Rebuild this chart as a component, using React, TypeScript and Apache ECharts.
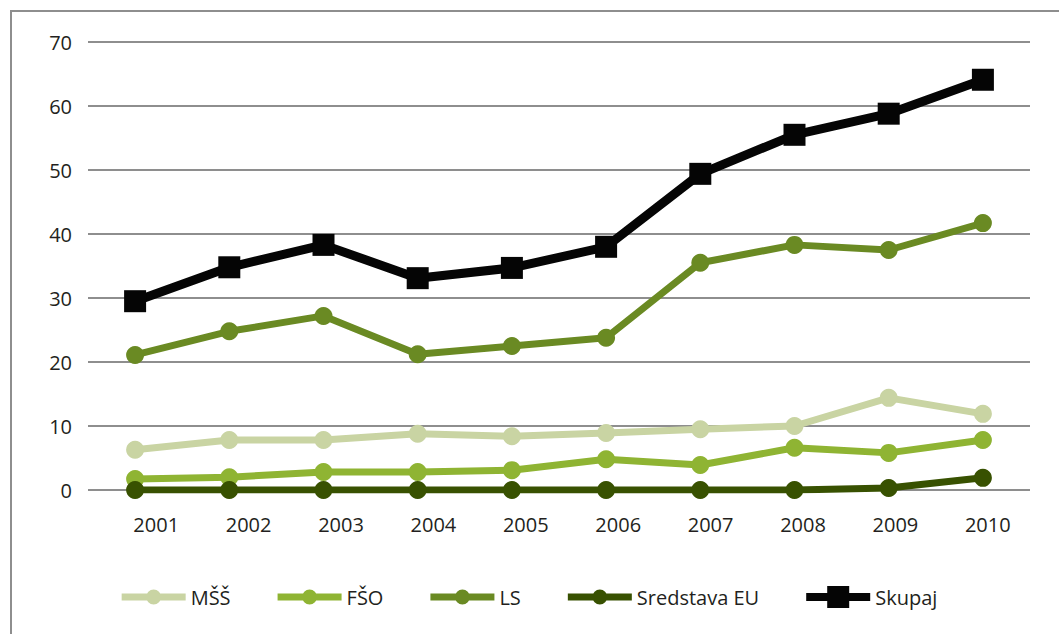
import React, { useEffect, useRef } from "react";
import * as echarts from "echarts";

const years = ["2001", "2002", "2003", "2004", "2005", "2006", "2007", "2008", "2009", "2010"];
const yTicks = { min: 0, max: 70, interval: 10 };

const mss = [6.3, 7.8, 7.8, 8.8, 8.4, 8.9, 9.5, 10.0, 14.4, 11.9];
const fso = [1.7, 2.0, 2.8, 2.8, 3.1, 4.8, 3.9, 6.6, 5.8, 7.8];
const ls = [21.1, 24.8, 27.2, 21.2, 22.5, 23.8, 35.5, 38.3, 37.5, 41.7];
const eu = [0, 0, 0, 0, 0, 0, 0, 0, 0.3, 1.9];
const skupaj = [29.5, 34.8, 38.3, 33.1, 34.7, 38.0, 49.4, 55.5, 58.8, 64.1];

const seriesNames = ["MŠŠ", "FŠO", "LS", "Sredstava EU", "Skupaj"];
const seriesColors = ["#c9d4a3", "#8fb433", "#6a8a23", "#385101", "#050505"];

const FONT = "'Open Sans', 'Noto Sans', sans-serif";
const TEXT_COLOR = "#231f20";
const GRID_COLOR = "#8e8e8e";

// legend icons: bar with marker in the middle (64 x 22 box, corner dots keep the box size)
const corners = "M0 0 L0.01 0 L0.01 0.01 Z M63.99 21.99 L64 21.99 L64 22 Z ";
const circleIcon =
  "path://" + corners +
  "M0 7.5 L64 7.5 L64 14.5 L0 14.5 Z M24.5 11 A7.5 7.5 0 1 1 39.5 11 A7.5 7.5 0 1 1 24.5 11 Z";
const squareIcon =
  "path://" + corners +
  "M0 7 L21 7 L21 0 L43 0 L43 7 L64 7 L64 15 L43 15 L43 22 L21 22 L21 15 L0 15 Z";

export default function App() {
  const ref = useRef<HTMLDivElement>(null);

  useEffect(() => {
    if (!ref.current) return;
    const chart = echarts.init(ref.current, null, { renderer: "svg" });
    const values = [mss, fso, ls, eu, skupaj];

    const series: any[] = values.map((d, i) => {
      const isTotal = i === 4;
      return {
        name: seriesNames[i],
        type: "line",
        xAxisIndex: 0,
        yAxisIndex: 0,
        data: d,
        symbol: isTotal ? "rect" : "circle",
        symbolSize: isTotal ? 22 : 18,
        showSymbol: true,
        lineStyle: { color: seriesColors[i], width: isTotal ? 9 : 7 },
        itemStyle: { color: seriesColors[i], borderWidth: 0 },
        z: 2 + i,
      };
    });

    chart.setOption({
      animation: false,
      backgroundColor: "#ffffff",
      textStyle: { fontFamily: FONT },
      graphic: [
        {
          type: "rect",
          shape: { x: 11, y: 11, width: 2000, height: 2000 },
          style: { fill: "none", stroke: GRID_COLOR, lineWidth: 2 },
          silent: true,
        },
      ],
      grid: [
        { left: 88, right: 29, top: 42, bottom: 144 },
        { left: 110, right: 25, top: 42, bottom: 144 },
      ],
      xAxis: [
        {
          type: "category",
          gridIndex: 0,
          data: years,
          boundaryGap: true,
          axisLine: { show: false },
          axisTick: { show: false },
          axisLabel: { show: false },
          splitLine: { show: false },
        },
        {
          type: "category",
          gridIndex: 1,
          data: years,
          boundaryGap: true,
          axisLine: { show: false },
          axisTick: { show: false },
          axisLabel: { show: true, color: TEXT_COLOR, fontSize: 20, fontFamily: FONT, margin: 24 },
          splitLine: { show: false },
        },
      ],
      yAxis: [
        {
          type: "value",
          gridIndex: 0,
          min: yTicks.min,
          max: yTicks.max,
          interval: yTicks.interval,
          axisLine: { show: false },
          axisTick: { show: false },
          axisLabel: { color: TEXT_COLOR, fontSize: 20, fontFamily: FONT, margin: 16 },
          splitLine: { show: true, lineStyle: { color: GRID_COLOR, width: 2 } },
        },
        {
          type: "value",
          gridIndex: 1,
          min: yTicks.min,
          max: yTicks.max,
          show: false,
        },
      ],
      legend: {
        show: true,
        left: "center",
        top: 581,
        itemWidth: 64,
        itemHeight: 22,
        itemGap: 47,
        textStyle: { color: TEXT_COLOR, fontSize: 20, fontFamily: FONT, padding: [0, 0, 0, 0] },
        data: seriesNames.map((n, i) => ({
          name: n,
          icon: i === 4 ? squareIcon : circleIcon,
          itemStyle: { color: seriesColors[i] },
        })),
      },
      series,
    });

    return () => chart.dispose();
  }, []);

  return (
    <div
      ref={ref}
      style={{ position: "absolute", left: 0, top: 0, width: 1059, height: 634, background: "#fff" }}
    />
  );
}
